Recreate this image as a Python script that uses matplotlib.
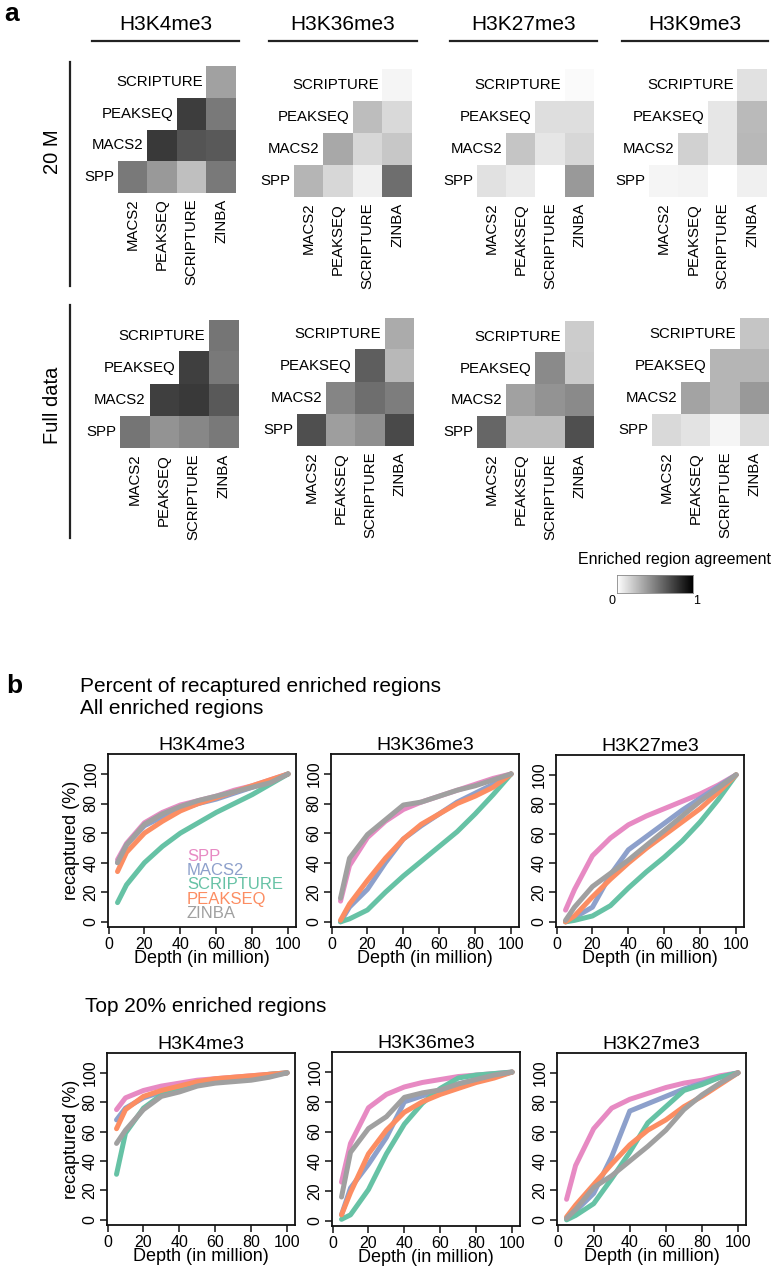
import numpy as np
import matplotlib.pyplot as plt
from matplotlib.colors import LinearSegmentedColormap
from matplotlib.lines import Line2D

plt.rcParams['font.family'] = ['Liberation Sans', 'DejaVu Sans']

W, H = 776, 1269

marks = ['H3K4me3', 'H3K36me3', 'H3K27me3']
heat_marks = ['H3K4me3', 'H3K36me3', 'H3K27me3', 'H3K9me3']
row_callers = ['SPP', 'MACS2', 'PEAKSEQ', 'SCRIPTURE']
col_callers = ['MACS2', 'PEAKSEQ', 'SCRIPTURE', 'ZINBA']

# enriched region agreement, rows SPP..SCRIPTURE, cols MACS2..ZINBA
n = np.nan
k4_20m = [[0.52, 0.40, 0.25, 0.52], [n, 0.77, 0.67, 0.65], [n, n, 0.76, 0.52], [n, n, n, 0.37]]
k36_20m = [[0.29, 0.16, 0.06, 0.57], [n, 0.34, 0.16, 0.22], [n, n, 0.26, 0.15], [n, n, n, 0.04]]
k27_20m = [[0.12, 0.08, 0.00, 0.40], [n, 0.23, 0.10, 0.16], [n, n, 0.13, 0.13], [n, n, n, 0.02]]
k9_20m = [[0.04, 0.05, 0.00, 0.06], [n, 0.18, 0.10, 0.28], [n, n, 0.10, 0.27], [n, n, n, 0.12]]
k4_full = [[0.54, 0.42, 0.47, 0.52], [n, 0.75, 0.77, 0.65], [n, n, 0.75, 0.52], [n, n, n, 0.54]]
k36_full = [[0.69, 0.38, 0.44, 0.71], [n, 0.48, 0.57, 0.51], [n, n, 0.63, 0.28], [n, n, n, 0.33]]
k27_full = [[0.60, 0.26, 0.26, 0.69], [n, 0.37, 0.42, 0.46], [n, n, 0.46, 0.21], [n, n, n, 0.20]]
k9_full = [[0.15, 0.11, 0.04, 0.14], [n, 0.36, 0.29, 0.40], [n, n, 0.29, 0.29], [n, n, n, 0.23]]

# recaptured (%) vs depth (million reads)
depth = [5, 10, 20, 30, 40, 50, 60, 70, 80, 90, 100]
callers = ['SPP', 'MACS2', 'SCRIPTURE', 'PEAKSEQ', 'ZINBA']
colors = ['#E78AC3', '#8DA0CB', '#66C2A5', '#FC8D62', '#A0A0A0']

all_k4 = {
    'SPP': [42, 53, 67, 74, 79, 82, 85, 89, 92, 96, 100],
    'MACS2': [40, 52, 65, 71, 76, 80, 83, 87, 91, 95, 100],
    'SCRIPTURE': [13, 25, 40, 51, 60, 67, 74, 80, 86, 93, 100],
    'PEAKSEQ': [34, 47, 60, 68, 75, 80, 84, 88, 92, 96, 100],
    'ZINBA': [40, 52, 66, 73, 78, 82, 85, 88, 91, 94, 100],
}
all_k36 = {
    'SPP': [14, 38, 57, 68, 76, 81, 85, 89, 93, 97, 100],
    'MACS2': [0, 10, 22, 40, 56, 65, 73, 81, 87, 93, 100],
    'SCRIPTURE': [0, 2, 8, 20, 31, 41, 51, 61, 73, 86, 100],
    'PEAKSEQ': [1, 12, 28, 43, 56, 66, 73, 80, 85, 91, 100],
    'ZINBA': [16, 43, 59, 69, 79, 81, 85, 89, 92, 96, 100],
}
all_k27 = {
    'SPP': [8, 22, 45, 57, 66, 72, 77, 82, 87, 93, 100],
    'MACS2': [0, 3, 10, 32, 49, 58, 67, 76, 84, 92, 100],
    'SCRIPTURE': [0, 1, 4, 11, 23, 34, 44, 55, 68, 83, 100],
    'PEAKSEQ': [0, 4, 17, 29, 40, 50, 59, 68, 77, 88, 100],
    'ZINBA': [1, 10, 24, 33, 42, 52, 62, 72, 82, 91, 100],
}
top_k4 = {
    'SPP': [75, 83, 88, 91, 93, 95, 96, 97, 98, 99, 100],
    'MACS2': [68, 76, 83, 87, 90, 93, 95, 96, 97, 98, 100],
    'SCRIPTURE': [31, 59, 76, 85, 89, 92, 95, 96, 97, 99, 100],
    'PEAKSEQ': [62, 75, 84, 88, 91, 94, 96, 97, 98, 99, 100],
    'ZINBA': [52, 61, 75, 84, 87, 91, 93, 94, 95, 97, 100],
}
top_k36 = {
    'SPP': [26, 52, 76, 85, 90, 93, 95, 97, 98, 99, 100],
    'MACS2': [4, 22, 38, 56, 80, 84, 88, 92, 95, 97, 100],
    'SCRIPTURE': [1, 4, 21, 45, 65, 79, 89, 96, 98, 99, 100],
    'PEAKSEQ': [4, 19, 45, 61, 73, 80, 85, 89, 93, 96, 100],
    'ZINBA': [16, 46, 62, 70, 83, 86, 88, 92, 95, 98, 100],
}
top_k27 = {
    'SPP': [14, 37, 62, 76, 82, 86, 90, 93, 95, 98, 100],
    'MACS2': [1, 6, 18, 43, 74, 79, 84, 89, 93, 97, 100],
    'SCRIPTURE': [0, 3, 11, 28, 46, 66, 77, 88, 92, 97, 100],
    'PEAKSEQ': [2, 10, 24, 38, 51, 61, 68, 77, 84, 92, 100],
    'ZINBA': [1, 7, 22, 30, 40, 50, 61, 75, 85, 93, 100],
}


def px_axes(fig, x0, y0, x1, y1):
    return fig.add_axes([x0 / W, 1 - y1 / H, (x1 - x0) / W, (y1 - y0) / H])


def fx(x):
    return x / W


def fy(y):
    return 1 - y / H


fig = plt.figure(figsize=(W / 100, H / 100), dpi=100)
cmap = LinearSegmentedColormap.from_list('agree', ['#ffffff', '#000000'])

# ---- panel a: heatmaps ----
fig.text(fx(4), fy(14), 'a', fontsize=19, fontweight='bold', va='center', ha='left')
head_x = [(92, 239), (269, 417), (450, 597), (622, 768)]
for m, (x0, x1) in zip(heat_marks, head_x):
    fig.text(fx((x0 + x1) / 2), fy(25), m, fontsize=15, ha='center', va='center')
    fig.add_artist(Line2D([fx(x0), fx(x1)], [fy(41), fy(41)], color='#222222', lw=1.6))

fig.add_artist(Line2D([fx(70), fx(70)], [fy(62), fy(286)], color='#222222', lw=1.6))
fig.add_artist(Line2D([fx(70), fx(70)], [fy(305), fy(538)], color='#222222', lw=1.6))
fig.text(fx(53), fy(152), '20 M', fontsize=14.5, rotation=90, ha='center', va='center')
fig.text(fx(52), fy(405), 'Full data', fontsize=14.5, rotation=90, ha='center', va='center')

boxes_20m = [(118, 66, 236, 193), (294, 69, 412, 197), (477, 69, 594, 197), (649, 69, 767, 197)]
boxes_full = [(120, 320, 238, 448), (297, 318, 414, 446), (477, 321, 594, 448), (652, 318, 769, 446)]
mats = [k4_20m, k36_20m, k27_20m, k9_20m, k4_full, k36_full, k27_full, k9_full]

for mat, box in zip(mats, boxes_20m + boxes_full):
    ax = px_axes(fig, *box)
    arr = np.ma.masked_invalid(np.array(mat, dtype=float))
    ax.imshow(arr, cmap=cmap, vmin=0, vmax=1, origin='lower',
              extent=(0, 4, 0, 4), aspect='auto', interpolation='nearest')
    ax.set_xlim(0, 4)
    ax.set_ylim(0, 4)
    ax.axis('off')
    for r, lab in enumerate(row_callers):
        ax.text(r - 0.13, r + 0.5, lab, ha='right', va='center', fontsize=10.8,
                clip_on=False)
    for c, lab in enumerate(col_callers):
        ax.text(c + 0.5, -0.18, lab, ha='center', va='top', rotation=90,
                fontsize=10.8, clip_on=False)

# colour key
fig.text(fx(771), fy(559), 'Enriched region agreement', fontsize=11.5, ha='right', va='center')
cax = px_axes(fig, 617, 575, 693, 593)
cax.imshow(np.linspace(0, 1, 256)[None, :], cmap=cmap, aspect='auto', extent=(0, 1, 0, 1))
cax.set_xticks([])
cax.set_yticks([])
for s in cax.spines.values():
    s.set_color('#888888')
    s.set_linewidth(0.6)
fig.text(fx(612), fy(601), '0', fontsize=9, ha='center', va='center')
fig.text(fx(697), fy(601), '1', fontsize=9, ha='center', va='center')

# ---- panel b: recapture curves ----
fig.text(fx(6), fy(686), 'b', fontsize=19, fontweight='bold', va='center', ha='left')
fig.text(fx(80), fy(686), 'Percent of recaptured enriched regions', fontsize=15, va='center')
fig.text(fx(80), fy(709), 'All enriched regions', fontsize=15, va='center')
fig.text(fx(85), fy(1006), 'Top 20% enriched regions', fontsize=15, va='center')

row1 = [(108, 754, 296, 927), (331, 754, 519, 927), (556, 755, 744, 927)]
row2 = [(107, 1053, 295, 1225), (332, 1052, 520, 1226), (557, 1053, 746, 1225)]
datasets = [all_k4, all_k36, all_k27, top_k4, top_k36, top_k27]

for i, (data, box) in enumerate(zip(datasets, row1 + row2)):
    ax = px_axes(fig, *box)
    for cal, col in zip(callers, colors):
        ax.plot(depth, data[cal], color=col, lw=3.6, solid_capstyle='round',
                solid_joinstyle='round')
    ax.set_xlim(-0.3, 104.4)
    ax.set_ylim(-3.5, 113.5)
    ax.set_xticks([0, 20, 40, 60, 80, 100])
    ax.set_yticks([0, 20, 40, 60, 80, 100])
    ax.tick_params(direction='out', length=5, width=1.1, labelsize=11.5, pad=2, color='#111111')
    for lab in ax.get_yticklabels():
        lab.set_rotation(90)
        lab.set_va('center')
    for s in ax.spines.values():
        s.set_linewidth(1.3)
        s.set_color('#111111')
    ax.set_title(marks[i % 3], fontsize=14, pad=3)
    ax.set_xlabel('Depth (in million)', fontsize=13, labelpad=-1)
    if i % 3 == 0:
        ax.set_ylabel('recaptured (%)', fontsize=13, labelpad=2)
    if i == 0:
        for k, (cal, col) in enumerate(zip(callers, colors)):
            ax.text(0.42, 0.41 - k * 0.083, cal, color=col, fontsize=12,
                    transform=ax.transAxes, va='center', ha='left')

fig.savefig('out.png', dpi=100)
